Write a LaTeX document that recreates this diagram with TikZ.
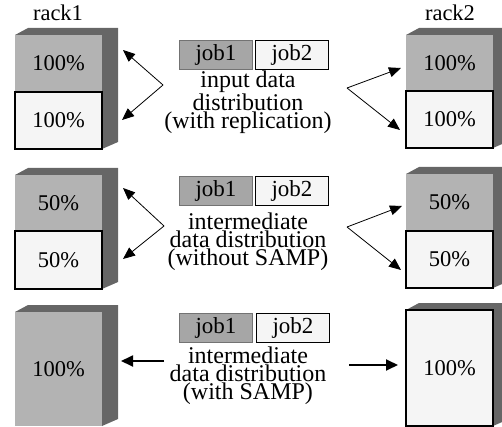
\documentclass[tikz,border=0pt]{standalone}
\usepackage{fontspec}
\setmainfont{Liberation Serif}
\usetikzlibrary{arrows.meta}
\definecolor{sidegray}{RGB}{102,102,102}
\definecolor{frontgray}{RGB}{179,179,179}
\definecolor{paper}{RGB}{245,245,245}
\definecolor{jobgray}{RGB}{166,166,166}
\definecolor{jobedge}{RGB}{115,115,115}

% top and right faces of a rack block:
% #1 front left x, #2 front right x, #3 back right x, #4 top y, #5 bottom y
\newcommand\rackdepth[5]{%
  \fill[sidegray] (#1,#4) -- (#1+13,#4-7) -- (#3,#4-7) -- (#3,#5-7)
    -- (#2,#5) -- (#2,#4) -- cycle;}

\begin{document}
\begin{tikzpicture}[x=1pt,y=-1pt,
  blk/.style={rectangle,inner sep=0pt,minimum width=87pt,
    font=\fontsize{22.5}{22.5}\selectfont},
  loaded/.style={blk,fill=frontgray},
  spare/.style={blk,fill=paper,draw=black,line width=1.4pt},
  jobbox/.style={rectangle,inner sep=0pt,minimum width=73pt,minimum height=29pt,
    font=\fontsize{23}{23}\selectfont},
  jobone/.style={jobbox,fill=jobgray,draw=jobedge,line width=1.2pt},
  jobtwo/.style={jobbox,fill=paper,draw=black,line width=1.4pt},
  caption/.style={align=center,inner sep=0pt,
    font=\fontsize{24}{16.8}\selectfont},
  label/.style={inner sep=0pt,font=\fontsize{22.5}{22.5}\selectfont},
  link/.style={-{Triangle[length=12pt,width=10pt]},line width=0.8pt},
  heavylink/.style={-{Triangle[length=12pt,width=11pt]},line width=1.8pt}]
\useasboundingbox (0,0) rectangle (502,427);

% rack titles
\node[label] (rackone) at (58,13) {rack1};
\node[label] (racktwo) at (450,13) {rack2};

% depth faces of the rack blocks (the right rack runs past the page edge)
\rackdepth{15}{102}{118}{35}{149}
\rackdepth{15}{102}{118}{175}{289}
\rackdepth{15}{102}{118}{312}{426}
\rackdepth{406}{493}{509}{35}{148}
\rackdepth{406}{493}{509}{174}{288}
\rackdepth{406}{493}{509}{310}{426}

% input data distribution (with replication)
\node[loaded,minimum height=57pt] (aLtop) at (58.5,63.5) {100\%};
\node[spare,minimum height=57pt] (aLbot) at (58.5,120.5) {100\%};
\node[loaded,minimum height=56pt] (aRtop) at (449.5,63) {100\%};
\node[spare,minimum height=57pt] (aRbot) at (449.5,119.5) {100\%};
\node[jobone] (aJone) at (216,55) {job1};
\node[jobtwo] (aJtwo) at (292,55) {job2};
\node[caption] (aText) at (248,102) {input data\\distribution\\(with replication)};

% intermediate data distribution (without SAMP)
\node[loaded,minimum height=56pt] (bLtop) at (58.5,203) {50\%};
\node[spare,minimum height=58pt] (bLbot) at (58.5,260) {50\%};
\node[loaded,minimum height=57pt] (bRtop) at (449.5,202.5) {50\%};
\node[spare,minimum height=57pt] (bRbot) at (449.5,259.5) {50\%};
\node[jobone] (bJone) at (216,191) {job1};
\node[jobtwo] (bJtwo) at (292,191) {job2};
\node[caption] (bText) at (248,242) {intermediate\\data distribution\\(without SAMP)};

% intermediate data distribution (with SAMP)
\node[loaded,minimum height=114pt] (cL) at (58.5,369) {100\%};
\node[spare,minimum height=116pt] (cR) at (449.5,368) {100\%};
\node[jobone] (cJone) at (216,328) {job1};
\node[jobtwo] (cJtwo) at (293,328) {job2};
\node[caption] (cText) at (248,376) {intermediate\\data distribution\\(with SAMP)};

% arrow fork points and tips
\coordinate (aLv) at (163,85);
\coordinate (aLa) at (123,50);
\coordinate (aLb) at (122,120);
\coordinate (aRv) at (347,88);
\coordinate (aRa) at (401,68);
\coordinate (aRb) at (400,130);
\coordinate (bLv) at (164,226);
\coordinate (bLa) at (123,188);
\coordinate (bLb) at (123,259);
\coordinate (bRv) at (347,227);
\coordinate (bRa) at (402,206);
\coordinate (bRb) at (401,270);
\coordinate (cLv) at (164,361);
\coordinate (cLa) at (121,361);
\coordinate (cRv) at (349,365);
\coordinate (cRa) at (398,365);

\draw[link] (aLv) -- (aLa);
\draw[link] (aLv) -- (aLb);
\draw[link] (aRv) -- (aRa);
\draw[link] (aRv) -- (aRb);
\draw[link] (bLv) -- (bLa);
\draw[link] (bLv) -- (bLb);
\draw[link] (bRv) -- (bRa);
\draw[link] (bRv) -- (bRb);
\draw[heavylink] (cLv) -- (cLa);
\draw[heavylink] (cRv) -- (cRa);
\end{tikzpicture}
\end{document}
